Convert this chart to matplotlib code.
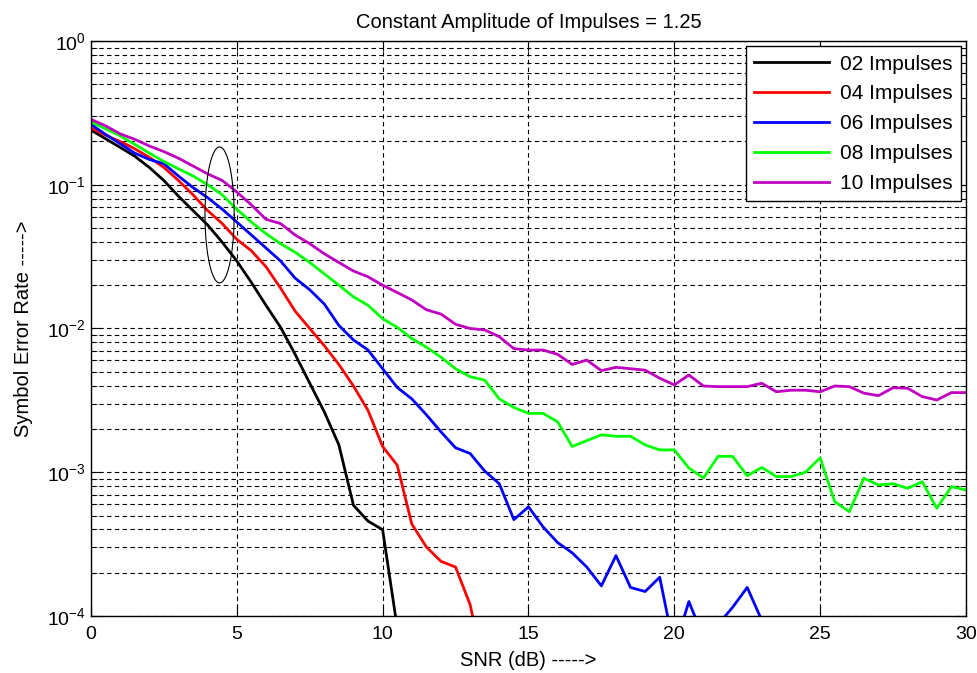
import numpy as np
import matplotlib
matplotlib.use('Agg')
import matplotlib.pyplot as plt

plt.rcParams['font.family'] = ['Liberation Sans', 'DejaVu Sans']

# SNR axis (dB), 0:0.5:30
snr = np.arange(0, 30.5, 0.5)

# symbol error rates (0 = no errors -> not drawn on log axis)
ser_02 = [0.240, 0.209, 0.182, 0.158, 0.132, 0.107, 0.0832, 0.0661, 0.0525, 0.0398,
          0.0295, 0.0209, 0.0145, 0.0102, 0.00661, 0.00417, 0.00263, 0.00155, 0.000589, 0.000457,
          0.000398, 0.0000832, 0, 0, 0, 0, 0, 0, 0, 0,
          0, 0, 0, 0, 0, 0, 0, 0, 0, 0,
          0, 0, 0, 0, 0, 0, 0, 0, 0, 0,
          0, 0, 0, 0, 0, 0, 0, 0, 0, 0, 0]
ser_04 = [0.248, 0.221, 0.200, 0.178, 0.155, 0.132, 0.107, 0.0851, 0.0661, 0.0537,
          0.0417, 0.0347, 0.0269, 0.0191, 0.0132, 0.0100, 0.00759, 0.00562, 0.00398, 0.00269,
          0.00151, 0.00112, 0.000437, 0.000302, 0.000240, 0.000219, 0.000120, 0.0000398, 0, 0,
          0, 0, 0, 0, 0, 0, 0, 0, 0, 0,
          0, 0, 0, 0, 0, 0, 0, 0, 0, 0,
          0, 0, 0, 0, 0, 0, 0, 0, 0, 0, 0]
ser_06 = [0.263, 0.224, 0.193, 0.166, 0.150, 0.140, 0.115, 0.0955, 0.0813, 0.0676,
          0.0550, 0.0447, 0.0363, 0.0295, 0.0224, 0.0186, 0.0148, 0.0105, 0.00832, 0.00708,
          0.00525, 0.00389, 0.00324, 0.00251, 0.00191, 0.00148, 0.00135, 0.00102, 0.000832, 0.000468,
          0.000575, 0.000417, 0.000324, 0.000275, 0.000219, 0.000162, 0.000263, 0.000158, 0.000148, 0.000186,
          0.0000589, 0.000126, 0.0000708, 0.0000871, 0.000115, 0.000158, 0.0000933, 0, 0, 0,
          0, 0, 0, 0, 0, 0, 0, 0, 0, 0, 0]
ser_08 = [0.274, 0.245, 0.219, 0.191, 0.166, 0.145, 0.129, 0.115, 0.100, 0.0851,
          0.0676, 0.0550, 0.0457, 0.0389, 0.0339, 0.0288, 0.0240, 0.0200, 0.0166, 0.0145,
          0.0117, 0.0102, 0.00851, 0.00741, 0.00631, 0.00525, 0.00462, 0.00437, 0.00324, 0.00282,
          0.00257, 0.00257, 0.00224, 0.00151, 0.00166, 0.00182, 0.00178, 0.00178, 0.00155, 0.00143,
          0.00143, 0.00107, 0.000912, 0.00129, 0.00129, 0.000944, 0.00108, 0.000933, 0.000933, 0.00100,
          0.00126, 0.000624, 0.000532, 0.000908, 0.000815, 0.000832, 0.000773, 0.000859, 0.000562, 0.000794, 0.000753]
ser_10 = [0.285, 0.257, 0.226, 0.207, 0.186, 0.170, 0.153, 0.135, 0.119, 0.107,
          0.0891, 0.0724, 0.0575, 0.0537, 0.0447, 0.0389, 0.0331, 0.0288, 0.0251, 0.0229,
          0.0200, 0.0178, 0.0158, 0.0135, 0.0126, 0.0107, 0.0100, 0.00977, 0.00877, 0.00724,
          0.00708, 0.00708, 0.00661, 0.00562, 0.00603, 0.00509, 0.00537, 0.00525, 0.00513, 0.00451,
          0.00405, 0.00475, 0.00398, 0.00394, 0.00394, 0.00394, 0.00416, 0.00363, 0.00372, 0.00372,
          0.00363, 0.00398, 0.00394, 0.00355, 0.00341, 0.00387, 0.00384, 0.00336, 0.00318, 0.00358, 0.00358]

labels = ['02 Impulses', '04 Impulses', '06 Impulses', '08 Impulses', '10 Impulses']
colors = ['#000000', '#ff0000', '#0000ff', '#00ff00', '#c000c0']

# ellipse marking the low SNR region (centre snr, half width, log10 centre, log10 half height)
ell_x, ell_a = 4.41, 0.5
ell_logy, ell_b = -1.21, 0.473

fig = plt.figure(figsize=(9.77, 6.73), dpi=100)
ax = fig.add_axes([0.0931, 0.0847, 0.8956, 0.8544])
ax.set_yscale('log', nonpositive='mask')

for ser, lab, c in zip([ser_02, ser_04, ser_06, ser_08, ser_10], labels, colors):
    ax.plot(snr, np.array(ser, dtype=float), color=c, lw=2, label=lab)

t = np.linspace(0, 2 * np.pi, 200)
ax.plot(ell_x + ell_a * np.cos(t), 10 ** (ell_logy + ell_b * np.sin(t)), color='k', lw=0.8)

ax.set_xlim(0, 30)
ax.set_ylim(1e-4, 1)
ax.set_xticks(np.arange(0, 31, 5))

ax.grid(True, which='major', axis='both', color='k', linestyle=(0, (4, 3)), lw=0.8)
ax.grid(True, which='minor', axis='y', color='k', linestyle=(0, (4, 3)), lw=0.8)
ax.tick_params(which='both', direction='in', top=True, right=True, labelsize=14)
ax.tick_params(which='major', length=7)
ax.tick_params(which='minor', length=4)
ax.tick_params(axis='x', pad=7)
for s in ax.spines.values():
    s.set_linewidth(1.0)

ax.set_title('Constant Amplitude of Impulses = 1.25', fontsize=14.5, pad=9)
ax.set_xlabel('SNR (dB) ----->', fontsize=14.5, labelpad=6)
ax.set_ylabel('Symbol Error Rate ----->', fontsize=14.5, labelpad=10)

leg = ax.legend(loc='upper right', fontsize=15, fancybox=False, framealpha=1,
                edgecolor='k', handlelength=3.6, borderaxespad=0.25,
                labelspacing=0.52, handletextpad=0.5)
leg.get_frame().set_linewidth(1.0)

fig.savefig('out.png', dpi=100)
